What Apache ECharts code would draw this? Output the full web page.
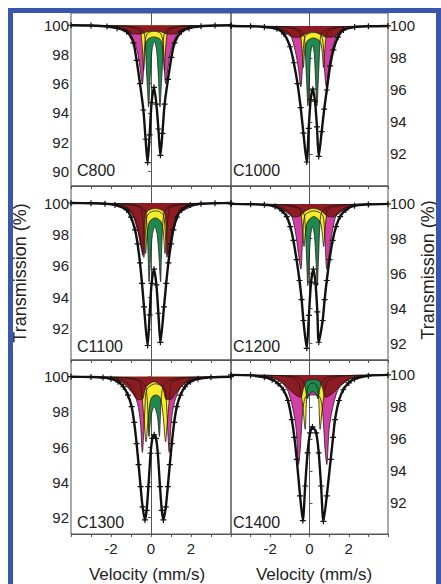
<!DOCTYPE html>
<html>
<head>
<meta charset="utf-8">
<script src="https://cdn.jsdelivr.net/npm/echarts@6/dist/echarts.min.js"></script>
<style>
  html, body { margin: 0; padding: 0; background: #fff; }
  #main { width: 441px; height: 584px; }
</style>
</head>
<body>
<div id="main"></div>
<script>
// sample labels, tick labels
const sampleNames = ['C800', 'C1000', 'C1100', 'C1200', 'C1300', 'C1400'];
const velTickLabels = [-2, 0, 2];
const yTicksC800 = [90, 92, 94, 96, 98, 100];
const yTicksOther = [92, 94, 96, 98, 100];

// C800 : measured spectrum and the four sub-spectra [velocity mm/s, transmission %]
const c800Data = [[-4,100],[-3,99.98],[-2.2,99.92],[-1.7,99.8],[-1.22,99.56],[-0.88,98.8],[-0.72,97.6],[-0.55,96.0],[-0.38,94.2],[-0.27,92.2],[-0.17,90.6],[-0.07,92.5],[0.03,94.7],[0.15,95.75],[0.27,94.6],[0.37,92.9],[0.47,91.1],[0.57,92.6],[0.68,94.6],[0.85,96.3],[1.02,97.8],[1.18,98.8],[1.52,99.56],[1.9,99.8],[2.5,99.93],[3.2,99.98],[4,100]];
const c800Red = [[-4,100],[-2.4,99.96],[-1.8,99.85],[-1.3,99.6],[-0.9,99.4],[-0.55,99.4],[-0.2,99.55],[0.15,99.62],[0.5,99.55],[0.85,99.4],[1.2,99.4],[1.6,99.6],[2.1,99.85],[2.8,99.96],[4,100]];
const c800Magenta = [[-4,100],[-2.0,99.95],[-1.4,99.8],[-1.05,99.5],[-0.7,98.3],[-0.56,97.2],[-0.43,96.0],[-0.37,97.0],[-0.32,98.5],[-0.2,99.4],[0.15,99.6],[0.5,99.4],[0.62,98.5],[0.67,97.0],[0.73,96.0],[0.86,97.2],[1.0,98.3],[1.35,99.5],[1.7,99.8],[2.3,99.95],[4,100]];
const c800Yellow = [[-4,100],[-1.5,99.95],[-0.9,99.85],[-0.55,99.6],[-0.47,99.0],[-0.41,98.0],[-0.37,96.9],[-0.32,97.8],[-0.27,98.6],[-0.15,99.05],[0.15,99.2],[0.45,99.05],[0.57,98.6],[0.62,97.8],[0.67,96.9],[0.71,98.0],[0.77,99.0],[0.85,99.6],[1.2,99.85],[1.8,99.95],[4,100]];
const c800Green = [[-4,100],[-1.2,99.95],[-0.6,99.8],[-0.35,99.5],[-0.27,98.4],[-0.23,97.0],[-0.18,95.8],[-0.12,94.4],[-0.04,96.5],[0.05,98.3],[0.165,98.9],[0.28,98.3],[0.37,96.5],[0.45,94.4],[0.51,95.8],[0.56,97.0],[0.6,98.4],[0.68,99.5],[0.95,99.8],[1.5,99.95],[4,100]];

// C1000
const c1000Data = [[-4,100],[-3,99.98],[-2.3,99.93],[-1.66,99.82],[-1.3,99.5],[-0.99,98.7],[-0.8,97.7],[-0.61,96.4],[-0.45,94.9],[-0.31,93.3],[-0.14,91.5],[-0.04,93.6],[0.06,95.4],[0.17,96.05],[0.28,95.3],[0.38,93.7],[0.47,91.85],[0.62,93.4],[0.75,94.8],[0.88,96.0],[1.05,97.5],[1.22,98.5],[1.45,99.3],[1.73,99.75],[2.3,99.93],[3,99.98],[4,100]];
const c1000Red = [[-4,100],[-2.3,99.96],[-1.7,99.85],[-1.2,99.55],[-0.8,99.3],[-0.5,99.3],[-0.2,99.5],[0.17,99.65],[0.55,99.5],[0.85,99.3],[1.15,99.3],[1.5,99.55],[2.0,99.85],[2.6,99.96],[4,100]];
const c1000Magenta = [[-4,100],[-2.0,99.95],[-1.4,99.8],[-1.0,99.5],[-0.72,98.4],[-0.56,97.3],[-0.44,96.2],[-0.37,97.2],[-0.31,98.6],[-0.2,99.4],[0.2,99.6],[0.6,99.4],[0.71,98.6],[0.77,97.2],[0.86,96.2],[0.98,97.3],[1.14,98.4],[1.42,99.5],[1.8,99.8],[2.4,99.95],[4,100]];
const c1000Yellow = [[-4,100],[-1.5,99.95],[-0.9,99.85],[-0.5,99.6],[-0.42,99.0],[-0.36,98.2],[-0.31,97.4],[-0.26,98.2],[-0.2,98.8],[-0.08,99.1],[0.2,99.25],[0.48,99.1],[0.6,98.8],[0.66,98.2],[0.71,97.4],[0.76,98.2],[0.82,99.0],[0.9,99.6],[1.3,99.85],[1.9,99.95],[4,100]];
const c1000Green = [[-4,100],[-1.2,99.95],[-0.6,99.8],[-0.3,99.5],[-0.22,98.6],[-0.18,97.5],[-0.14,96.4],[-0.08,95.0],[-0.01,96.6],[0.06,98.3],[0.15,98.8],[0.24,98.3],[0.31,96.6],[0.38,95.0],[0.44,96.4],[0.48,97.5],[0.52,98.6],[0.6,99.5],[0.9,99.8],[1.5,99.95],[4,100]];

// C1100
const c1100Data = [[-4,100],[-3,99.98],[-2.3,99.95],[-1.8,99.88],[-1.22,99.56],[-1.0,99.1],[-0.8,98.3],[-0.67,97.4],[-0.55,96.2],[-0.45,94.9],[-0.35,93.4],[-0.17,90.95],[-0.07,92.9],[0.03,94.9],[0.15,95.8],[0.27,94.8],[0.37,93.0],[0.47,91.15],[0.65,93.4],[0.76,94.9],[0.87,96.2],[1.0,97.4],[1.12,98.3],[1.3,99.1],[1.53,99.56],[1.97,99.88],[2.5,99.95],[3.2,99.98],[4,100]];
const c1100Red = [[-4,100],[-2.4,99.95],[-1.8,99.85],[-1.3,99.6],[-0.95,99.3],[-0.68,98.3],[-0.5,97.2],[-0.41,96.7],[-0.35,97.6],[-0.3,98.8],[-0.2,99.45],[0.22,99.66],[0.64,99.45],[0.74,98.8],[0.79,97.6],[0.85,96.7],[0.94,97.2],[1.12,98.3],[1.39,99.3],[1.74,99.6],[2.24,99.85],[2.8,99.95],[4,100]];
const c1100Magenta = [[-4,100],[-2,99.95],[-1.2,99.75],[-0.8,99.0],[-0.55,97.8],[-0.36,96.55],[-0.3,97.5],[-0.25,98.6],[-0.15,99.3],[0.22,99.5],[0.59,99.3],[0.69,98.6],[0.74,97.5],[0.8,96.55],[0.99,97.8],[1.24,99.0],[1.64,99.75],[2.4,99.95],[4,100]];
const c1100Yellow = [[-4,100],[-1.5,99.95],[-0.9,99.85],[-0.52,99.7],[-0.45,99.4],[-0.38,98.5],[-0.32,97.5],[-0.27,96.8],[-0.22,97.6],[-0.17,98.3],[-0.05,98.85],[0.215,99.05],[0.48,98.85],[0.6,98.3],[0.65,97.6],[0.7,96.8],[0.76,97.5],[0.81,98.5],[0.88,99.4],[0.95,99.7],[1.3,99.85],[1.9,99.95],[4,100]];
const c1100Green = [[-4,100],[-1.2,99.95],[-0.6,99.8],[-0.3,99.5],[-0.2,98.5],[-0.16,97.3],[-0.13,96.2],[-0.1,95.0],[-0.02,96.6],[0.07,98.0],[0.19,98.5],[0.31,98.0],[0.4,96.6],[0.48,95.0],[0.51,96.2],[0.54,97.3],[0.58,98.5],[0.68,99.5],[0.98,99.8],[1.58,99.95],[4,100]];

// C1200
const c1200Data = [[-4,100],[-3,99.98],[-2.3,99.95],[-1.75,99.85],[-1.4,99.6],[-1.16,99.27],[-0.98,98.7],[-0.82,97.9],[-0.66,96.8],[-0.51,95.6],[-0.4,94.5],[-0.31,93.3],[-0.14,91.7],[-0.03,93.6],[0.08,95.5],[0.2,96.25],[0.31,95.4],[0.4,93.8],[0.47,92.05],[0.67,93.3],[0.77,94.5],[0.88,95.6],[1.02,96.8],[1.18,97.9],[1.35,98.7],[1.56,99.27],[1.85,99.65],[2.3,99.9],[3,99.97],[4,100]];
const c1200Red = [[-4,100],[-2.3,99.96],[-1.7,99.85],[-1.2,99.55],[-0.8,99.25],[-0.5,99.3],[-0.2,99.6],[0.2,99.75],[0.6,99.6],[0.9,99.3],[1.2,99.25],[1.6,99.55],[2.1,99.85],[2.7,99.96],[4,100]];
const c1200Magenta = [[-4,100],[-2.0,99.95],[-1.4,99.8],[-0.95,99.4],[-0.72,98.4],[-0.57,97.2],[-0.44,96.25],[-0.37,97.5],[-0.31,98.8],[-0.2,99.4],[0.22,99.6],[0.64,99.4],[0.75,98.8],[0.81,97.5],[0.88,96.25],[1.01,97.2],[1.16,98.4],[1.39,99.4],[1.84,99.8],[2.44,99.95],[4,100]];
const c1200Yellow = [[-4,100],[-1.5,99.95],[-0.9,99.85],[-0.5,99.7],[-0.41,99.2],[-0.34,98.4],[-0.28,97.55],[-0.22,98.2],[-0.15,98.8],[-0.02,99.1],[0.22,99.27],[0.46,99.1],[0.59,98.8],[0.66,98.2],[0.72,97.55],[0.78,98.4],[0.85,99.2],[0.94,99.7],[1.34,99.85],[1.94,99.95],[4,100]];
const c1200Green = [[-4,100],[-1.2,99.95],[-0.6,99.8],[-0.3,99.5],[-0.21,98.6],[-0.17,97.5],[-0.13,96.4],[-0.09,95.3],[-0.02,96.8],[0.06,98.2],[0.155,98.7],[0.25,98.2],[0.33,96.8],[0.4,95.3],[0.44,96.4],[0.48,97.5],[0.52,98.6],[0.61,99.5],[0.91,99.8],[1.51,99.95],[4,100]];

// C1300
const c1300Data = [[-4,100],[-3,99.98],[-2.4,99.95],[-2.0,99.88],[-1.65,99.72],[-1.38,99.43],[-1.15,98.95],[-0.97,98.3],[-0.84,97.4],[-0.72,96.2],[-0.62,95.0],[-0.52,93.75],[-0.42,92.6],[-0.3,91.86],[-0.22,92.4],[-0.13,93.75],[-0.02,95.65],[0.07,96.5],[0.16,96.7],[0.25,96.5],[0.34,95.65],[0.45,93.75],[0.54,92.4],[0.62,91.86],[0.74,92.6],[0.84,93.75],[0.94,95.0],[1.04,96.2],[1.16,97.4],[1.29,98.3],[1.47,98.95],[1.7,99.43],[1.97,99.72],[2.35,99.88],[3,99.97],[4,100]];
const c1300Red = [[-4,100],[-2.4,99.95],[-1.8,99.85],[-1.3,99.55],[-0.95,99.1],[-0.65,98.7],[-0.45,98.7],[-0.25,99.4],[0.16,99.72],[0.57,99.4],[0.77,98.7],[0.97,98.7],[1.27,99.1],[1.62,99.55],[2.12,99.85],[2.7,99.95],[4,100]];
const c1300Magenta = [[-4,100],[-2.0,99.95],[-1.4,99.8],[-1.0,99.4],[-0.68,98.5],[-0.53,97.4],[-0.43,95.7],[-0.36,96.9],[-0.3,98.3],[-0.2,99.3],[0.24,99.6],[0.68,99.3],[0.78,98.3],[0.84,96.9],[0.91,95.7],[1.01,97.4],[1.16,98.5],[1.48,99.4],[1.88,99.8],[2.48,99.95],[4,100]];
const c1300Yellow = [[-4,100],[-1.5,99.95],[-0.9,99.85],[-0.57,99.7],[-0.5,99.4],[-0.42,98.5],[-0.33,97.3],[-0.25,96.3],[-0.15,97.5],[-0.05,98.5],[0.05,98.85],[0.24,98.96],[0.43,98.85],[0.53,98.5],[0.63,97.5],[0.73,96.3],[0.81,97.3],[0.9,98.5],[0.98,99.4],[1.05,99.7],[1.4,99.85],[2.0,99.95],[4,100]];
const c1300Green = [[-4,100],[-1.2,99.95],[-0.6,99.8],[-0.3,99.5],[-0.2,98.9],[-0.15,97.8],[-0.1,96.6],[-0.02,97.6],[0.07,98.1],[0.16,98.3],[0.25,98.1],[0.34,97.6],[0.42,96.6],[0.47,97.8],[0.52,98.9],[0.62,99.5],[0.92,99.8],[1.52,99.95],[4,100]];

// C1400
const c1400Data = [[-4,100],[-3,99.97],[-2.3,99.85],[-1.9,99.7],[-1.6,99.45],[-1.33,99.07],[-1.1,98.4],[-0.9,97.2],[-0.77,96.1],[-0.65,94.72],[-0.48,92.44],[-0.34,90.9],[-0.22,93.06],[-0.1,95.13],[0.03,96.38],[0.15,96.75],[0.34,96.38],[0.47,95.13],[0.59,93.06],[0.71,90.85],[0.88,92.44],[1.08,94.72],[1.2,96.1],[1.3,97.2],[1.5,98.4],[1.72,99.07],[2.0,99.5],[2.3,99.75],[3,99.95],[4,100]];
const c1400Red = [[-4,100],[-2.4,99.95],[-1.8,99.8],[-1.3,99.4],[-0.95,99.0],[-0.65,98.7],[-0.45,98.6],[-0.3,99.2],[-0.15,99.62],[0.18,99.72],[0.51,99.62],[0.66,99.2],[0.81,98.6],[1.01,98.7],[1.31,99.0],[1.66,99.4],[2.16,99.8],[2.76,99.95],[4,100]];
const c1400Magenta = [[-4,100],[-2.3,99.92],[-1.7,99.75],[-1.35,99.45],[-1.1,99.0],[-0.85,97.9],[-0.68,96.6],[-0.56,94.4],[-0.47,95.4],[-0.39,97.0],[-0.3,98.2],[-0.15,98.7],[0.16,98.75],[0.47,98.7],[0.62,98.2],[0.71,97.0],[0.79,95.4],[0.88,94.4],[1.0,96.6],[1.17,97.9],[1.42,99.0],[1.67,99.45],[2.02,99.75],[2.62,99.92],[4,100]];
const c1400Yellow = [[-4,100],[-1.5,99.95],[-0.9,99.85],[-0.6,99.6],[-0.5,99.3],[-0.4,98.6],[-0.3,97.5],[-0.22,96.6],[-0.17,97.9],[-0.12,99.0],[0.0,99.4],[0.16,99.5],[0.32,99.4],[0.44,99.0],[0.49,97.9],[0.54,96.6],[0.62,97.5],[0.72,98.6],[0.82,99.3],[0.92,99.6],[1.3,99.85],[1.9,99.95],[4,100]];
const c1400Green = [[-4,100],[-1.2,99.95],[-0.6,99.85],[-0.35,99.65],[-0.22,99.2],[-0.1,98.5],[-0.02,98.8],[0.16,98.95],[0.34,98.8],[0.42,98.5],[0.54,99.2],[0.67,99.65],[0.92,99.85],[1.52,99.95],[4,100]];

const compColors = { red: '#8d1b22', magenta: '#d23fa5', yellow: '#f3ee27', green: '#1d8a50' };
const FONT = "'Liberation Sans', Arial, sans-serif";

// components listed in drawing order (last one painted on top)
const panels = [
  { name: sampleNames[0], data: c800Data, yMin: 89.0, yMax: 100.84, yTicks: yTicksC800,
    comps: [['magenta', c800Magenta], ['green', c800Green], ['yellow', c800Yellow], ['red', c800Red]] },
  { name: sampleNames[1], data: c1000Data, yMin: 90.0, yMax: 100.81, yTicks: yTicksOther,
    comps: [['magenta', c1000Magenta], ['green', c1000Green], ['yellow', c1000Yellow], ['red', c1000Red]] },
  { name: sampleNames[2], data: c1100Data, yMin: 90.03, yMax: 101.08, yTicks: yTicksOther,
    comps: [['magenta', c1100Magenta], ['green', c1100Green], ['yellow', c1100Yellow], ['red', c1100Red]] },
  { name: sampleNames[3], data: c1200Data, yMin: 91.03, yMax: 101.03, yTicks: yTicksOther,
    comps: [['magenta', c1200Magenta], ['green', c1200Green], ['yellow', c1200Yellow], ['red', c1200Red]] },
  { name: sampleNames[4], data: c1300Data, yMin: 91.06, yMax: 100.95, yTicks: yTicksOther,
    comps: [['magenta', c1300Magenta], ['green', c1300Green], ['yellow', c1300Yellow], ['red', c1300Red]] },
  { name: sampleNames[5], data: c1400Data, yMin: 90.06, yMax: 100.93, yTicks: yTicksOther,
    comps: [['magenta', c1400Magenta], ['yellow', c1400Yellow], ['green', c1400Green], ['red', c1400Red]] },
];

const colLeft = [71, 231], colWidth = [160, 157];
const rowTop = [13, 186, 360], rowHeight = [173, 174, 174];
const nameY = [170, 346, 522];
const plus = 'path://M4,0H6V4H10V6H6V10H4V6H0V4H4Z';

let grids = [], xAxes = [], yAxes = [], series = [], graphics = [];

panels.forEach((p, i) => {
  const col = i % 2, row = Math.floor(i / 2);
  grids.push({ left: colLeft[col], top: rowTop[row], width: colWidth[col], height: rowHeight[row],
    show: true, borderColor: '#555', borderWidth: 1 });
  xAxes.push({
    gridIndex: i, type: 'value', min: -4, max: 4, interval: 1,
    axisLine: { show: true, onZero: false, lineStyle: { color: '#555' } },
    axisTick: { show: true, length: 3, lineStyle: { color: '#555' } },
    axisLabel: { show: row === 2, fontSize: 15, color: '#222', fontFamily: FONT, margin: 7,
      formatter: v => velTickLabels.includes(v) ? String(v) : '' },
    splitLine: { show: false }
  });
  yAxes.push({
    gridIndex: i, type: 'value', position: col === 0 ? 'left' : 'right',
    min: p.yMin, max: p.yMax,
    axisLine: { show: true, lineStyle: { color: '#555' } },
    axisTick: { show: true, length: 3, customValues: p.yTicks, lineStyle: { color: '#555' } },
    axisLabel: { fontSize: 15, color: '#222', fontFamily: FONT, margin: 2, customValues: p.yTicks },
    splitLine: { show: false }
  });
  p.comps.forEach(([c, d]) => {
    series.push({
      type: 'line', xAxisIndex: i, yAxisIndex: i, data: d, smooth: 0.3,
      symbol: 'none', silent: true,
      lineStyle: { color: '#2b1616', width: 0.8 },
      areaStyle: { color: compColors[c], opacity: 1, origin: 100 }
    });
  });
  series.push({
    type: 'line', xAxisIndex: i, yAxisIndex: i, data: p.data, smooth: 0.25,
    symbol: plus, symbolSize: 6, showSymbol: true, showAllSymbol: true, silent: true,
    itemStyle: { color: '#111' },
    lineStyle: { color: '#111', width: 2.4 }
  });
  graphics.push({ type: 'text', x: colLeft[col] + (col === 0 ? 6 : 2), y: nameY[row],
    style: { text: p.name, fontSize: 16, fontFamily: FONT, fill: '#222', align: 'left', verticalAlign: 'middle' } });
});

// axis titles
graphics.push(
  { type: 'text', x: 147, y: 574, style: { text: 'Velocity (mm/s)', fontSize: 17, fontFamily: FONT, fill: '#222', align: 'center', verticalAlign: 'middle' } },
  { type: 'text', x: 314, y: 574, style: { text: 'Velocity (mm/s)', fontSize: 17, fontFamily: FONT, fill: '#222', align: 'center', verticalAlign: 'middle' } },
  { type: 'text', x: 20, y: 273, rotation: Math.PI / 2, style: { text: 'Transmission (%)', fontSize: 18, fontFamily: FONT, fill: '#222', align: 'center', verticalAlign: 'middle' } },
  { type: 'text', x: 428, y: 270, rotation: Math.PI / 2, style: { text: 'Transmission (%)', fontSize: 18, fontFamily: FONT, fill: '#222', align: 'center', verticalAlign: 'middle' } },
  // blue frame
  { type: 'rect', z: 100, shape: { x: 10.5, y: 10.5, width: 428, height: 700 },
    style: { fill: 'none', stroke: '#3a57ae', lineWidth: 5 } }
);

const chart = echarts.init(document.getElementById('main'), null, { renderer: 'svg' });
chart.setOption({
  animation: false,
  backgroundColor: '#fff',
  grid: grids,
  xAxis: xAxes,
  yAxis: yAxes,
  series: series,
  graphic: graphics
});
</script>
</body>
</html>
